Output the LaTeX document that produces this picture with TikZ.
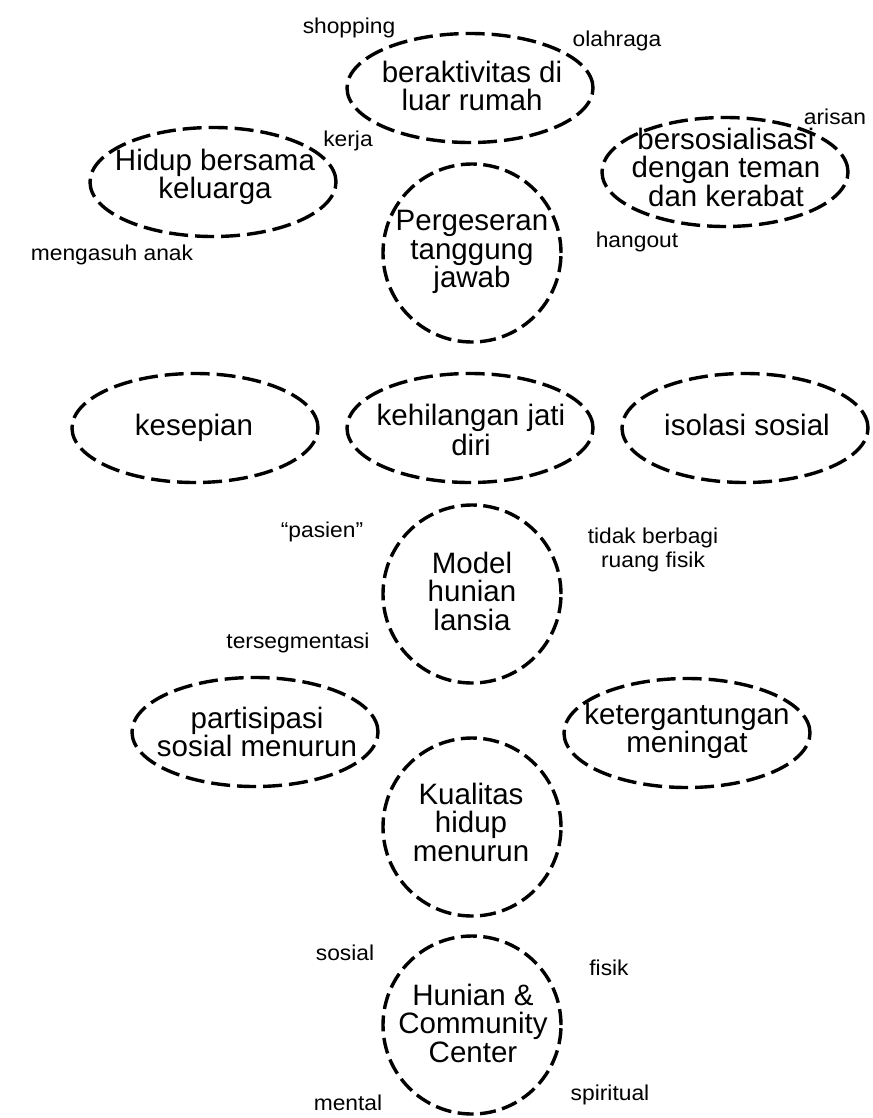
\documentclass[tikz,border=0pt]{standalone}
\usepackage{fontspec}
\setmainfont{Liberation Sans}
\newfontfamily\notefont{Liberation Sans}[FakeStretch=1.06]
\usetikzlibrary{shapes.geometric}
\usetikzlibrary{positioning}

\tikzset{
    dashline/.style={draw, line width=3.4pt},
    oval/.style={dashline, dash pattern=on 19pt off 7pt, ellipse, minimum width=246pt, minimum height=109pt, inner sep=0pt},
    ring/.style={dashline, dash pattern=on 16pt off 6.5pt, circle, minimum size=178pt, inner sep=0pt},
    caption/.style={align=center, inner sep=0pt, font=\fontsize{29.5}{28.5}\selectfont},
    note/.style={inner sep=0pt, anchor=base, align=center, font=\notefont\fontsize{21.5}{24}\selectfont}
}

\begin{document}
\begin{tikzpicture}[x=1pt, y=-1pt]
        \useasboundingbox (0,0) rectangle (872,1118);

        \node[oval] (activity) at (470,88) {};
        \node[caption] (activity-text) at (472,86) {beraktivitas di\\luar rumah};
        \node[oval] (family) at (213,182) {};
        \node[caption] (family-text) at (215,177) {Hidup bersama\\keluarga};
        \node[oval] (social) at (725,172) {};
        \node[caption] (social-text) at (726,167) {bersosialisasi\\dengan teman\\dan kerabat};
        \node[ring] (shift) at (472,253) {};
        \node[caption] (shift-text) at (472,252) {Pergeseran\\tanggung\\jawab};

        \node[oval] (lonely) at (195,428) {};
        \node[caption] (lonely-text) at (194,428) {kesepian};
        \node[oval] (identity) at (470,428) {};
        \node[caption, font=\fontsize{29.5}{30.5}\selectfont] (identity-text) at (471,430) {kehilangan jati\\diri};
        \node[oval] (isolation) at (745,428) {};
        \node[caption] (isolation-text) at (747,425) {isolasi sosial};

        \node[ring] (model) at (472,594) {};
        \node[caption] (model-text) at (472,591) {Model\\hunian\\lansia};

        \node[oval] (participation) at (255,732) {};
        \node[caption, font=\fontsize{29.5}{25.5}\selectfont] (participation-text) at (257,732) {partisipasi\\sosial menurun};
        \node[oval] (dependency) at (687,733) {};
        \node[caption] (dependency-text) at (687,731) {ketergantungan\\meningat};
        \node[ring] (quality) at (472,827) {};
        \node[caption] (quality-text) at (471,822) {Kualitas\\hidup\\menurun};

        \node[ring] (center) at (472,1025) {};
        \node[caption] (center-text) at (473,1023) {Hunian \&\\Community\\Center};

        \node[note] (shopping) at (349,34) {shopping};
        \node[note] (sport) at (617,47) {olahraga};
        \node[note] (arisan) at (835,125) {arisan};
        \node[note] (work) at (348,147) {kerja};
        \node[note] (parenting) at (112,260) {mengasuh anak};
        \node[note] (hangout) at (637,247) {hangout};
        \node[note] (patient) at (322,537) {“pasien”};
        \node[note, anchor=center] (space) at (653,550) {tidak berbagi\\ruang fisik};
        \node[note] (segmented) at (298,648) {tersegmentasi};
        \node[note] (sosial) at (345,960) {sosial};
        \node[note] (physical) at (609,975) {fisik};
        \node[note] (mental) at (348,1110) {mental};
        \node[note] (spiritual) at (610,1100) {spiritual};
    \end{tikzpicture}
\end{document}
